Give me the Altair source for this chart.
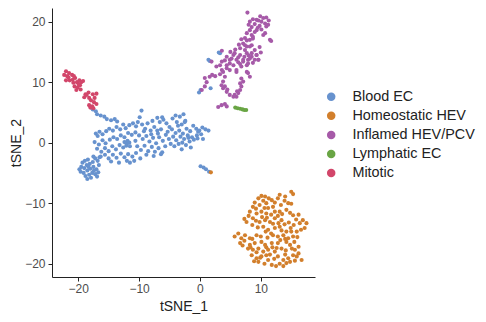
import altair as alt
import pandas as pd

categories = ["Blood EC", "Homeostatic HEV", "Inflamed HEV/PCV", "Lymphatic EC", "Mitotic"]
colors = ["#6792CE", "#D27F2C", "#A65AA8", "#69A544", "#D2466A"]

blood_ec = [
    (-19.3,-3.3),(-18.9,-3.0),(-18.4,-2.8),(-19.5,-4.0),(-19.0,-4.2),(-18.6,-3.7),(-18.1,-3.5),(-17.6,-3.2),
    (-17.2,-2.6),(-16.8,-3.0),(-19.6,-4.8),(-19.1,-5.0),(-18.5,-4.6),(-18.0,-4.3),(-17.5,-4.0),(-17.0,-4.4),
    (-16.6,-3.7),(-18.8,-5.5),(-18.2,-5.3),(-17.7,-5.0),(-17.2,-5.2),(-16.7,-4.9),(-18.5,-6.0),(-17.9,-5.8),
    (-17.5,-2.3),(-16.5,-2.4),(-19.8,-4.4),(-18.3,-4.0),(-17.4,-4.6),(-16.9,-5.6),
    (-17.6,5.5),(-17.1,5.2),(-16.9,4.7),(-16.3,4.5),(-15.7,4.3),(-15.3,3.9),(-14.6,3.7),(-14.0,3.9),(-13.6,3.5),
    (-17.1,1.5),(-16.5,1.8),(-16.8,1.1),(-16.0,1.4),(-15.4,1.9),(-14.9,2.3),(-14.3,2.0),(-13.7,2.6),(-13.1,2.2),
    (-12.6,3.0),(-12.2,2.4),(-11.6,2.9),(-11.0,3.2),(-10.5,2.7),
    (-17.3,0.1),(-16.6,-0.3),(-16.0,0.4),(-15.5,-0.1),(-14.8,0.5),(-14.2,0.9),(-13.6,0.6),(-13.0,1.2),(-12.4,0.9),
    (-11.8,1.6),(-11.2,1.3),(-10.6,1.7),
    (-16.9,-1.0),(-16.2,-1.5),(-15.6,-0.9),(-15.0,-1.4),(-14.4,-0.6),(-13.8,-1.1),(-13.2,-0.4),(-12.6,-0.8),
    (-12.0,-0.2),(-11.5,-0.6),(-11.9,0.3),(-12.4,0.1),(-12.1,-0.5),(-11.6,0.0),
    (-16.3,-2.3),(-15.6,-2.0),(-15.0,-2.6),(-14.3,-2.0),(-13.7,-2.5),(-13.0,-1.8),(-12.4,-2.4),(-11.8,-1.9),
    (-11.1,-2.3),(-10.5,-1.7),(-14.6,-3.1),(-13.3,-3.3),(-12.0,-3.0),(-10.8,-3.0),(-9.8,-2.6),(-11.5,-3.3),
    (-9.6,5.3),(-9.9,4.2),(-10.2,3.4),(-9.5,3.0),(-9.0,2.3),(-8.6,3.2),(-8.1,2.0),(-7.5,2.6),(-7.0,2.0),
    (-6.6,3.4),(-6.0,3.8),(-5.5,3.2),(-5.0,2.6),
    (-10.0,1.2),(-9.4,0.6),(-8.8,1.1),(-8.3,0.2),(-7.7,0.8),(-7.2,-0.1),(-6.7,0.9),(-6.1,0.3),(-5.6,1.3),(-5.1,0.6),
    (-10.3,-0.6),(-9.7,-1.2),(-9.1,-0.5),(-8.5,-1.4),(-7.9,-0.7),(-7.4,-1.5),(-6.8,-0.9),(-6.2,-1.6),(-5.7,-0.6),
    (-8.8,-2.0),(-7.6,-2.2),(-6.4,-1.9),(-10.6,0.3),(-9.2,1.9),(-8.0,1.4),(-6.9,1.5),(-6.4,2.2),(-7.8,3.6),
    (-7.0,4.1),(-6.2,4.2),
    (-4.5,4.0),(-4.0,4.5),(-3.3,4.3),(-2.7,4.7),(-3.8,3.4),(-3.0,3.0),(-2.4,3.6),(-4.6,2.2),(-4.0,1.6),
    (-3.4,2.0),(-2.8,1.5),(-2.2,2.3),(-1.6,1.9),(-1.1,2.8),(-0.6,2.3),(-0.1,2.0),(0.4,2.5),(0.9,2.2),(1.4,2.0),
    (0.2,1.4),(-0.5,1.2),(-1.3,0.9),(-2.0,1.2),(-2.6,0.6),(-3.2,1.0),(-3.9,0.4),(-4.4,1.0),(-4.8,-0.2),
    (-4.2,-0.6),(-3.5,-0.2),(-2.9,0.0),(-2.3,-0.4),(-1.7,0.2),(-1.0,0.5),(-0.4,0.7),(0.5,0.6),(-3.0,-1.1),
    (-1.5,-0.8),(-0.3,1.8),(-2.5,3.4),(-1.9,0.8),(-5.3,1.8),(-3.6,2.8),
    (0.1,-3.9),(0.6,-4.1),(1.0,-4.4),(1.5,-4.8),
    (-0.15,8.3),(0.1,8.7),(1.75,9.0),(1.4,13.7),(1.6,13.5),(3.3,14.8),(3.1,14.9),
]

homeostatic_hev = [
    (15.0,-8.1),(15.3,-8.5),(13.1,-8.6),(10.1,-8.8),(9.6,-9.2),(10.7,-8.9),(11.8,-9.5),(12.8,-9.2),(13.9,-9.6),
    (14.5,-10.0),(15.0,-10.1),(8.7,-10.6),(9.8,-10.3),(10.9,-10.0),(11.2,-10.8),(12.0,-10.6),(8.2,-11.4),
    (9.3,-11.7),(10.1,-11.4),(10.9,-11.7),(12.3,-11.4),(13.1,-11.4),(14.2,-11.1),(15.3,-12.0),(7.65,-13.1),
    (8.7,-12.5),(9.8,-13.1),(10.7,-12.8),(11.5,-13.1),(12.3,-12.5),(13.4,-12.8),(16.9,-12.8),(17.5,-13.3),
    (16.4,-13.3),(17.2,-14.1),(15.9,-14.7),(15.0,-14.7),(14.2,-14.7),(13.1,-13.9),(12.3,-14.1),(11.2,-14.4),
    (10.4,-13.9),(12.0,-15.3),(12.8,-15.5),(13.7,-15.3),(14.5,-15.8),(15.3,-15.5),(6.3,-15.0),(5.7,-15.5),
    (6.8,-15.8),(6.6,-16.6),(8.2,-15.8),(9.3,-15.3),(8.2,-16.9),(9.0,-16.6),(10.1,-16.4),(10.7,-16.9),
    (11.8,-16.6),(12.8,-16.6),(14.2,-16.4),(14.8,-16.9),(7.9,-17.5),(8.7,-17.7),(9.6,-17.5),(10.4,-18.0),
    (11.2,-17.7),(12.3,-18.0),(13.4,-17.5),(15.6,-17.7),(8.5,-18.6),(9.3,-19.1),(10.1,-18.8),(11.2,-19.4),
    (11.8,-20.2),(10.9,-18.6),(12.8,-18.8),(13.7,-19.4),(14.5,-19.1),(15.3,-18.6),(15.9,-18.8),(16.7,-19.4),
    (14.2,-19.9),(14.8,-19.7),(9.6,-19.7),
    (9.0,-9.9),(10.4,-9.6),(11.3,-9.2),(12.3,-9.9),(13.3,-10.3),(14.0,-8.9),(13.5,-11.8),(14.8,-11.6),
    (15.8,-12.7),(16.2,-11.9),(9.2,-10.9),(10.6,-10.8),(11.7,-11.9),(12.8,-12.1),(8.0,-12.1),(7.3,-12.6),
    (9.2,-12.9),(10.2,-12.3),(11.0,-12.4),(12.0,-13.4),(12.9,-13.3),(13.9,-13.5),(14.6,-13.2),(15.4,-13.6),
    (16.6,-14.4),(8.6,-13.6),(9.5,-14.0),(10.8,-14.7),(11.7,-15.0),(13.4,-14.5),(14.9,-14.1),(16.0,-15.6),
    (7.4,-15.3),(7.3,-16.2),(8.6,-15.9),(10.0,-15.5),(11.1,-15.7),(13.2,-16.1),(14.0,-15.9),(15.5,-16.4),
    (7.0,-17.0),(8.3,-17.3),(9.3,-18.1),(10.9,-17.3),(11.9,-17.3),(12.6,-17.4),(14.1,-17.8),(15.1,-17.5),
    (16.2,-17.2),(9.9,-19.0),(10.6,-20.0),(12.2,-19.2),(13.1,-20.0),(14.0,-18.5),(15.6,-19.5),(16.2,-18.3),
    (11.5,-18.5),(8.9,-19.6),(12.5,-20.4),(13.7,-20.4),
    (1.8,-4.9),
]

inflamed_hev_pcv = [
    (7.8,21.5),(8.2,20.0),(8.7,20.4),(9.6,20.2),(10.4,20.6),(10.9,20.7),(10.7,19.7),(9.8,19.3),(9.0,19.6),
    (8.5,19.1),(9.3,18.6),(10.1,18.7),(10.9,19.2),(7.7,18.1),(8.5,17.8),(6.8,17.1),(7.7,16.9),(8.7,17.2),
    (10.7,18.1),(11.5,17.0),(7.4,16.1),(11.2,19.5),(10.4,17.8),(11.7,16.8),(9.3,20.3),(10.1,20.0),(8.2,18.6),
    (9.0,18.3),(7.4,17.3),(8.2,17.0),(8.7,17.5),(7.1,16.4),(8.5,16.1),(7.7,15.9),(11.3,20.2),(9.9,20.9),
    (9.5,19.0),(8.0,19.5),
    (6.6,15.6),(7.4,15.3),(8.2,15.9),(9.0,15.3),(5.7,14.8),(6.6,14.5),(7.7,14.8),(8.5,14.2),(9.3,14.5),
    (4.4,14.2),(4.9,13.7),(6.0,13.7),(7.1,13.4),(7.9,13.7),(8.7,13.2),(9.6,13.7),(3.6,13.4),(4.4,12.8),
    (5.5,12.8),(6.6,13.0),(7.7,12.8),(2.7,12.6),(3.6,12.0),(4.9,12.0),(6.0,11.7),(7.7,11.7),(5.2,13.9),
    (5.5,14.5),(6.0,12.0),(6.8,12.6),(7.1,13.7),(7.9,13.1),(8.2,13.9),(9.0,13.7),(8.5,14.8),(9.3,14.5),
    (9.6,13.7),(7.9,11.5),(8.2,10.9),(4.4,12.3),(4.9,13.1),(4.1,13.6),(3.3,12.8),(3.8,11.7),(10.0,14.9),
    (9.8,15.8),(6.3,14.1),(7.3,14.2),(8.0,14.4),(6.3,13.3),(5.8,15.4),(3.6,15.2),(1.9,13.4),(6.4,16.2),(5.0,15.0),
    (0.3,8.7),(0.8,9.3),(1.1,10.0),(0.8,10.7),(1.6,10.9),(2.5,11.0),(3.3,11.3),(4.1,10.9),(2.0,11.2),
    (3.8,10.1),(4.1,9.3),(4.4,8.4),(4.9,7.9),(5.5,7.6),(3.55,9.5),(3.8,9.0),(4.5,8.8),(7.1,10.1),(6.8,9.3),
    (6.6,8.7),(6.3,8.2),(6.0,7.6),(6.8,10.6),(6.6,9.8),(5.7,7.9),(6.1,8.5),
    (3.0,5.9),(3.55,6.2),(4.1,6.4),(4.4,6.0),
]

lymphatic_ec = [(5.8,5.8),(6.2,5.7),(6.6,5.6),(7.0,5.5),(7.3,5.4),(7.6,5.4)]

mitotic = [
    (-22.0,11.8),(-21.5,11.5),(-22.3,11.2),(-21.0,11.2),(-20.5,10.7),(-22.0,10.3),(-21.4,10.3),(-20.8,9.9),
    (-20.2,10.0),(-19.8,10.3),(-19.5,10.0),(-20.6,9.3),(-20.1,9.1),(-19.7,9.5),(-20.3,8.7),(-19.6,8.8),
    (-19.2,10.2),(-18.8,8.0),(-18.3,8.3),(-19.0,7.5),(-18.2,7.4),(-17.6,8.0),(-17.0,8.1),(-17.9,7.0),
    (-17.4,6.7),(-18.2,6.2),(-17.7,6.0),(-17.0,6.4),(-17.5,5.7),(-18.0,5.8),(-21.6,10.8),(-20.9,10.4),
    (-19.9,9.6),(-18.6,7.9),(-17.3,7.4),(-20.7,11.0),(-21.8,11.0),
]

groups = [blood_ec, homeostatic_hev, inflamed_hev_pcv, lymphatic_ec, mitotic]
rows = []
for name, pts in zip(categories, groups):
    for x, y in pts:
        rows.append({"tSNE_1": x, "tSNE_2": y, "cell": name})
df = pd.DataFrame(rows)

FONT = "Liberation Sans"

chart = alt.Chart(df).mark_circle(size=17, opacity=1).encode(
    x=alt.X("tSNE_1:Q",
            scale=alt.Scale(domain=[-24.3, 18.9], nice=False, zero=False),
            axis=alt.Axis(values=[-20, -10, 0, 10], title="tSNE_1", grid=False, tickSize=4,
                          labelPadding=2, titlePadding=5)),
    y=alt.Y("tSNE_2:Q",
            scale=alt.Scale(domain=[-22.2, 22.26], nice=False, zero=False),
            axis=alt.Axis(values=[-20, -10, 0, 10, 20], title="tSNE_2", grid=False, tickSize=4,
                          labelPadding=3, titlePadding=1)),
    color=alt.Color("cell:N",
                    scale=alt.Scale(domain=categories, range=colors),
                    legend=alt.Legend(title=None, orient="none", legendX=272, legendY=81.5,
                                      symbolType="circle", symbolSize=72, symbolStrokeWidth=0,
                                      labelFontSize=14.4, labelFont=FONT, labelColor="#222222",
                                      rowPadding=4.1, labelOffset=14, padding=0)),
).properties(
    width=263, height=269,
    autosize=alt.AutoSizeParams(type="none"),
    padding={"left": 44, "top": 0, "right": 163, "bottom": 37},
).configure_view(stroke=None).configure_axis(
    labelFont=FONT, titleFont=FONT, labelFontSize=12, titleFontSize=14,
    titleFontWeight="normal", labelColor="#4d4d4d", titleColor="#222222",
    domainColor="#222222", tickColor="#222222", domainWidth=1, tickWidth=1,
)

chart.save("out.html", embed_options={"renderer": "svg", "actions": False})
